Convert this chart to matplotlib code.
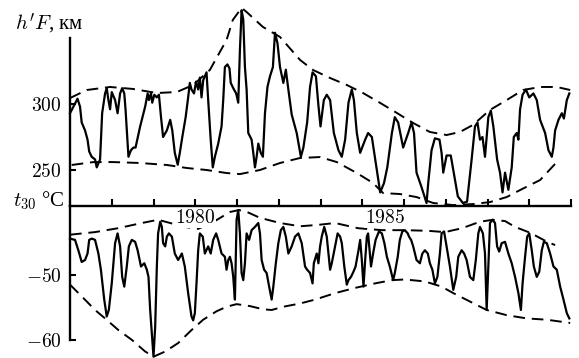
import matplotlib.pyplot as plt

# h'F (km), monthly-ish trace
hf_years = [
    1977.00, 1977.18, 1977.24, 1977.28, 1977.36, 1977.42, 1977.46, 1977.52, 1977.60, 1977.64,
    1977.68, 1977.72, 1977.77, 1977.84, 1977.88, 1977.92, 1977.96, 1978.00, 1978.08, 1978.14,
    1978.20, 1978.25, 1978.30, 1978.33, 1978.40, 1978.46, 1978.52, 1978.57, 1978.68, 1978.80,
    1978.86, 1978.89, 1978.94, 1978.97, 1979.02, 1979.08, 1979.13, 1979.18, 1979.23, 1979.32,
    1979.40, 1979.45, 1979.51, 1979.58, 1979.63, 1979.69, 1979.77, 1979.83, 1979.87, 1979.91,
    1979.97, 1980.02, 1980.07, 1980.11, 1980.15, 1980.19, 1980.23, 1980.27, 1980.31, 1980.37,
    1980.42, 1980.47, 1980.55, 1980.63, 1980.67, 1980.71, 1980.77, 1980.82, 1980.85, 1980.91,
    1980.98, 1981.03, 1981.07, 1981.11, 1981.15, 1981.19, 1981.23, 1981.27, 1981.35, 1981.39,
    1981.43, 1981.47, 1981.51, 1981.57, 1981.62, 1981.67, 1981.73, 1981.79, 1981.86, 1981.91,
    1981.97, 1982.03, 1982.11, 1982.17, 1982.23, 1982.31, 1982.43, 1982.53, 1982.59, 1982.68,
    1982.75, 1982.81, 1982.89, 1982.95, 1983.00, 1983.08, 1983.15, 1983.23, 1983.32, 1983.43,
    1983.51, 1983.59, 1983.67, 1983.75, 1983.80, 1983.87, 1983.95, 1984.07, 1984.14, 1984.23,
    1984.31, 1984.43, 1984.52, 1984.60, 1984.71, 1984.78, 1984.86, 1984.98, 1985.10, 1985.18,
    1985.24, 1985.30, 1985.42, 1985.54, 1985.58, 1985.66, 1985.74, 1985.85, 1985.90, 1985.94,
    1986.02, 1986.12, 1986.18, 1986.29, 1986.41, 1986.51, 1986.62, 1986.70, 1986.76, 1986.82,
    1986.88, 1986.94, 1987.02, 1987.08, 1987.14, 1987.23, 1987.30, 1987.36, 1987.42, 1987.50,
    1987.58, 1987.63, 1987.70, 1987.74, 1987.78, 1987.84, 1987.92, 1988.00, 1988.10, 1988.18,
    1988.26, 1988.38, 1988.46, 1988.54, 1988.58, 1988.62, 1988.70, 1988.78, 1988.83, 1988.90,
    1988.96,
]
hf_values = [
    293, 304, 298, 286, 280, 273, 264, 260, 258, 252,
    255, 258, 293, 308, 312, 303, 296, 309, 303, 293,
    308, 312, 308, 296, 260, 265, 267, 267, 283, 298,
    308, 303, 308, 301, 307, 305, 307, 290, 275, 280,
    288, 280, 263, 254, 263, 275, 290, 305, 316, 311,
    308, 317, 311, 320, 305, 318, 321, 324, 303, 273,
    252, 260, 270, 283, 303, 328, 330, 327, 316, 312,
    308, 301, 341, 371, 364, 328, 311, 278, 273, 263,
    252, 260, 270, 263, 260, 293, 313, 321, 328, 354,
    346, 328, 316, 326, 311, 292, 278, 260, 267, 286,
    313, 324, 321, 299, 283, 303, 307, 303, 278, 265,
    260, 273, 301, 311, 303, 278, 263, 273, 278, 275,
    258, 233, 240, 252, 278, 290, 286, 267, 278, 286,
    278, 248, 237, 225, 240, 265, 274, 273, 263, 248,
    261, 261, 250, 230, 225, 226, 258, 283, 286, 273,
    275, 260, 290, 295, 283, 258, 248, 233, 248, 235,
    252, 275, 278, 273, 296, 307, 311, 305, 308, 303,
    288, 278, 265, 260, 267, 280, 288, 293, 289, 303,
    308,
]

# envelopes of h'F (dashed)
hf_hi_years = [1977.00, 1977.40, 1977.96, 1978.51, 1979.08, 1979.56, 1979.95, 1980.35, 1980.75, 1980.90,
               1981.11, 1981.23, 1981.62, 1982.03, 1982.51, 1982.82, 1983.23, 1983.63, 1984.02, 1984.43,
               1984.83, 1985.22, 1985.62, 1986.02, 1986.34, 1986.65, 1987.06, 1987.46, 1987.85, 1988.26,
               1988.66, 1988.98]
hf_hi = [304.5, 310.6, 312.9, 311.4, 308.3, 309.1, 314.4, 325.8, 348.5, 363.7,
         372.8, 369.7, 358.4, 350.8, 333.4, 325.8, 319.7, 314.4, 308.3, 300.8,
         293.2, 285.6, 278.8, 276.5, 278.8, 284.1, 295.5, 303.0, 310.6, 312.9,
         312.9, 310.6]
hf_lo_years = [1977.04, 1977.56, 1978.03, 1978.68, 1979.32, 1979.80, 1980.27, 1980.75, 1981.07, 1981.55,
               1982.03, 1982.51, 1982.99, 1983.39, 1983.87, 1984.26, 1984.50, 1984.90, 1985.30, 1985.70,
               1986.18, 1986.66, 1987.06, 1987.46, 1987.78, 1988.26, 1988.66]
hf_lo = [253.8, 256.0, 256.0, 255.3, 253.8, 251.5, 250.0, 247.7, 246.9, 250.0,
         255.3, 259.1, 259.8, 256.0, 247.7, 240.1, 232.5, 231.8, 229.5, 225.0,
         223.4, 224.2, 225.7, 229.5, 234.8, 242.4, 256.0]

# t30 (deg C)
t30_years = [
    1977.00, 1977.12, 1977.20, 1977.28, 1977.36, 1977.42, 1977.46, 1977.52, 1977.60, 1977.68,
    1977.74, 1977.82, 1977.88, 1977.93, 1978.00, 1978.08, 1978.14, 1978.20, 1978.25, 1978.30,
    1978.36, 1978.41, 1978.48, 1978.56, 1978.62, 1978.70, 1978.78, 1978.84, 1978.88, 1978.92,
    1978.96, 1979.00, 1979.04, 1979.08, 1979.11, 1979.16, 1979.20, 1979.23, 1979.28, 1979.32,
    1979.37, 1979.44, 1979.51, 1979.59, 1979.68, 1979.75, 1979.83, 1979.91, 1979.95, 1979.99,
    1980.03, 1980.07, 1980.11, 1980.18, 1980.23, 1980.31, 1980.37, 1980.43, 1980.50, 1980.55,
    1980.63, 1980.71, 1980.75, 1980.79, 1980.83, 1980.87, 1980.91, 1980.95, 1980.99, 1981.03,
    1981.07, 1981.11, 1981.15, 1981.19, 1981.23, 1981.29, 1981.35, 1981.43, 1981.51, 1981.55,
    1981.59, 1981.65, 1981.71, 1981.77, 1981.83, 1981.87, 1981.93, 1981.99, 1982.05, 1982.11,
    1982.17, 1982.23, 1982.31, 1982.39, 1982.47, 1982.55, 1982.63, 1982.68, 1982.75, 1982.81,
    1982.84, 1982.91, 1982.95, 1982.99, 1983.03, 1983.09, 1983.15, 1983.19, 1983.23, 1983.27,
    1983.35, 1983.41, 1983.47, 1983.51, 1983.57, 1983.63, 1983.67, 1983.73, 1983.79, 1983.84,
    1983.91, 1983.95, 1983.99, 1984.03, 1984.07, 1984.11, 1984.14, 1984.21, 1984.26, 1984.32,
    1984.40, 1984.47, 1984.53, 1984.59, 1984.66, 1984.74, 1984.78, 1984.85, 1984.90, 1984.96,
    1985.02, 1985.09, 1985.12, 1985.17, 1985.22, 1985.30, 1985.38, 1985.44, 1985.50, 1985.57,
    1985.62, 1985.68, 1985.74, 1985.80, 1985.86, 1985.90, 1985.96, 1986.02, 1986.10, 1986.18,
    1986.25, 1986.30, 1986.38, 1986.44, 1986.50, 1986.58, 1986.66, 1986.72, 1986.78, 1986.82,
    1986.89, 1986.94, 1986.98, 1987.02, 1987.06, 1987.12, 1987.18, 1987.23, 1987.28, 1987.34,
    1987.42, 1987.50, 1987.58, 1987.66, 1987.74, 1987.80, 1987.84, 1987.90, 1987.95, 1988.00,
    1988.06, 1988.11, 1988.18, 1988.24, 1988.30, 1988.35, 1988.42, 1988.50, 1988.58, 1988.66,
    1988.74, 1988.82, 1988.90, 1988.96,
]
t30_values = [
    -44.4, -44.6, -46.2, -48.0, -47.7, -46.7, -44.6, -44.4, -44.6, -46.7,
    -49.2, -53.8, -56.4, -55.4, -51.3, -45.1, -43.6, -45.6, -50.3, -51.8,
    -48.7, -45.6, -44.6, -44.9, -46.2, -48.7, -48.2, -49.2, -50.3, -55.4,
    -59.0, -62.6, -58.0, -48.7, -43.6, -41.8, -42.6, -45.1, -45.6, -44.1,
    -43.6, -44.1, -46.7, -47.7, -46.7, -48.7, -52.8, -56.4, -57.0, -55.9,
    -51.3, -46.2, -43.6, -44.1, -46.7, -45.6, -46.7, -44.6, -43.6, -44.6,
    -46.7, -47.2, -49.2, -47.7, -47.2, -48.2, -50.3, -53.8, -41.5, -40.0,
    -43.6, -49.7, -50.8, -48.2, -43.6, -44.6, -43.1, -42.6, -42.0, -43.6,
    -47.7, -49.2, -49.7, -51.8, -53.8, -51.8, -48.2, -45.1, -43.1, -42.6,
    -44.1, -46.7, -45.6, -44.1, -43.6, -45.1, -48.7, -49.2, -49.7, -51.3,
    -48.2, -46.7, -48.2, -45.6, -44.1, -42.6, -44.1, -46.7, -49.2, -48.2,
    -45.6, -43.6, -44.1, -45.1, -48.7, -51.5, -50.8, -50.3, -49.5, -48.7,
    -46.2, -44.6, -47.7, -51.8, -47.7, -44.1, -43.6, -48.7, -46.7, -44.6,
    -43.3, -43.6, -45.1, -47.2, -48.7, -50.8, -49.7, -47.2, -44.6, -43.3,
    -43.1, -43.6, -44.1, -44.6, -45.6, -47.7, -48.2, -46.7, -46.2, -46.7,
    -48.2, -49.2, -51.3, -50.3, -46.7, -43.6, -43.3, -45.6, -48.7, -52.3,
    -50.3, -47.2, -46.2, -46.7, -47.7, -50.3, -50.8, -47.7, -43.6, -42.6,
    -43.6, -46.7, -55.4, -48.7, -42.0, -41.5, -42.0, -45.6, -46.4, -45.1,
    -44.9, -46.7, -48.2, -50.3, -52.8, -55.4, -51.3, -47.2, -44.1, -43.6,
    -46.2, -48.7, -50.3, -49.5, -46.2, -44.9, -45.1, -46.7, -48.7, -49.2,
    -51.8, -53.8, -55.9, -56.7,
]

# envelopes of t30 (dashed)
t30_hi_years = [1977.00, 1977.60, 1978.15, 1978.72, 1979.11, 1979.40, 1979.75, 1980.07, 1980.47, 1980.83,
                1981.05, 1981.24, 1981.55, 1982.03, 1982.51, 1982.92, 1983.35, 1983.90, 1984.47, 1985.02,
                1985.57, 1985.98, 1986.39, 1986.82, 1987.13, 1987.42, 1987.66, 1988.02, 1988.43, 1988.62]
t30_hi = [-43.8, -43.4, -42.8, -42.0, -41.5, -42.0, -42.6, -42.9, -41.7, -40.3,
          -40.0, -40.3, -41.2, -42.0, -42.5, -42.3, -42.0, -42.8, -43.1, -43.1,
          -43.2, -43.4, -42.8, -41.8, -41.5, -41.7, -42.6, -43.5, -44.9, -45.4]
t30_lo_years = [1977.00, 1977.28, 1977.60, 1977.84, 1978.16, 1978.48, 1978.80, 1979.00, 1979.28, 1979.59,
                1979.91, 1980.19, 1980.51, 1980.75, 1980.99, 1981.31, 1981.63, 1981.83, 1982.11, 1982.51,
                1982.87, 1983.35, 1983.83, 1984.31, 1984.71, 1985.02, 1985.50, 1985.90, 1986.18, 1986.58,
                1986.98, 1987.46, 1987.94, 1988.42, 1988.98]
t30_lo = [-51.5, -53.3, -55.4, -56.7, -58.5, -60.0, -61.8, -62.6, -61.8, -60.5,
          -58.5, -56.9, -55.6, -54.9, -54.5, -54.8, -55.3, -55.4, -54.9, -54.4,
          -53.8, -52.8, -52.0, -51.3, -50.8, -50.7, -51.0, -51.8, -52.8, -54.1,
          -55.4, -56.2, -56.7, -56.9, -57.4]

hf_ticks = [250, 300]
t30_ticks = [-60, -50]
year_ticks = [1978, 1979, 1980, 1981, 1982, 1983, 1984, 1985, 1986, 1987, 1988, 1989]
year_labels = ['1980', '1985']
year_label_pos = [1980.0, 1984.55]

plt.rcParams['mathtext.fontset'] = 'cm'
plt.rcParams['font.family'] = ['Liberation Serif', 'DejaVu Serif']

W, H = 579, 358
fig = plt.figure(figsize=(W / 100, H / 100), dpi=100)
ax_top = fig.add_axes([70 / W, (H - 205.5) / H, 501 / W, 205.5 / H])
ax_bot = fig.add_axes([70 / W, 0, 501 / W, (H - 205.5) / H], sharex=ax_top)

dash = (0, (6, 3.5))
lw = 1.6
for ax in (ax_top, ax_bot):
    ax.patch.set_visible(False)
    for s in ('top', 'right', 'bottom'):
        ax.spines[s].set_visible(False)
    ax.spines['left'].set_linewidth(1.7)

ax_top.plot(hf_years, hf_values, color='black', lw=lw, clip_on=False)
ax_top.plot(hf_hi_years, hf_hi, color='black', lw=1.4, ls=dash, clip_on=False)
ax_top.plot(hf_lo_years, hf_lo, color='black', lw=1.4, ls=dash, clip_on=False)

ax_bot.plot(t30_years, t30_values, color='black', lw=lw, clip_on=False)
ax_bot.plot(t30_hi_years, t30_hi, color='black', lw=1.4, ls=dash, clip_on=False)
ax_bot.plot(t30_lo_years, t30_lo, color='black', lw=1.4, ls=dash, clip_on=False)

ax_top.set_xlim(1977.0, 1989.0)
ax_top.set_ylim(223.1, 378.8)
ax_bot.set_ylim(-62.8, -39.3)

# the shared time axis sits on the bottom spine of the upper panel
ax_top.spines['bottom'].set_visible(True)
ax_top.spines['bottom'].set_linewidth(1.7)
ax_top.spines['left'].set_bounds(223.1, 350)
ax_bot.spines['left'].set_bounds(-60, -39.3)

ax_top.set_xticks(year_ticks)
ax_top.tick_params(axis='x', direction='in', length=5, width=1.5, labelbottom=False)
ax_bot.tick_params(axis='x', bottom=False, labelbottom=False)

ax_top.set_yticks(hf_ticks)
ax_top.set_yticklabels([f'${v}$' for v in hf_ticks])
ax_bot.set_yticks(t30_ticks)
ax_bot.set_yticklabels([f'${v}$' for v in t30_ticks])
for ax in (ax_top, ax_bot):
    ax.tick_params(axis='y', direction='in', length=4, width=1.5, pad=6, labelsize=14)

for pos, lab in zip(year_label_pos, year_labels):
    ax_bot.text(pos, -41.3, f'${lab}$', fontsize=14, ha='center', va='center',
                bbox=dict(facecolor='white', edgecolor='none', pad=0.5), zorder=5)

fig.text(15 / W, 1 - 30 / H, "$h'F$, км", fontsize=15, va='baseline')
fig.text(13 / W, 1 - 206.5 / H, '$t_{30}$ °C', fontsize=15, va='baseline')

fig.savefig('out.png', dpi=100)
